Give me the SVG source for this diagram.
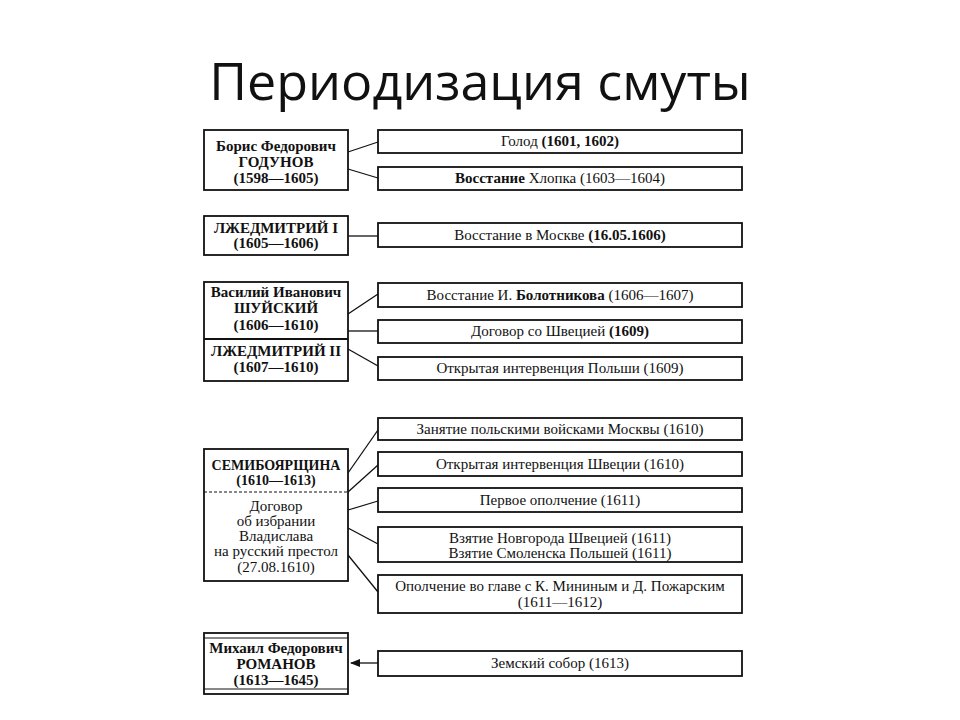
<svg xmlns="http://www.w3.org/2000/svg" width="960" height="720" viewBox="0 0 960 720">
<style>
.title{font-family:"Open Sans","Noto Sans","Liberation Sans",sans-serif;font-size:52px;fill:#111;text-anchor:middle}
.box{fill:#fff;stroke:#111;stroke-width:1.8}
.t{font-family:"Liberation Serif","Times New Roman",serif;font-size:15px;fill:#111;text-anchor:middle}
.s{font-size:14px}
.b{font-weight:bold}
.c{stroke:#111;stroke-width:1.3;fill:none}
</style>
<defs>
<marker id="arr" markerWidth="10" markerHeight="8" refX="9" refY="4" orient="auto" markerUnits="userSpaceOnUse">
<path d="M0,0 L10,4 L0,8 Z" fill="#111"/>
</marker>
</defs>
<rect width="960" height="720" fill="#fff"/>
<text class="title" x="480" y="100">Периодизация смуты</text>

<g id="connectors">
<line class="c" x1="348" y1="152" x2="378" y2="142"/>
<line class="c" x1="348" y1="169" x2="378" y2="178"/>
<line class="c" x1="348" y1="236" x2="378" y2="236"/>
<line class="c" x1="348" y1="314" x2="378" y2="294"/>
<line class="c" x1="348" y1="331" x2="378" y2="331"/>
<line class="c" x1="348" y1="349" x2="378" y2="366"/>
<line class="c" x1="348" y1="473" x2="378" y2="430"/>
<line class="c" x1="348" y1="492" x2="378" y2="465"/>
<line class="c" x1="348" y1="510" x2="378" y2="501"/>
<line class="c" x1="348" y1="528" x2="378" y2="544"/>
<line class="c" x1="348" y1="555" x2="378" y2="592"/>
<line class="c" x1="378" y1="663" x2="351" y2="663" marker-end="url(#arr)"/>
</g>

<g id="godunov">
<rect class="box" x="204" y="130" width="144" height="60"/>
<text class="t b" x="276" y="151">Борис Федорович</text>
<text class="t b" x="276" y="167">ГОДУНОВ</text>
<text class="t b" x="276" y="183">(1598—1605)</text>
</g>
<g id="lzhedmitry1">
<rect class="box" x="204" y="216" width="144" height="39"/>
<text class="t b" x="276" y="233">ЛЖЕДМИТРИЙ I</text>
<text class="t b" x="276" y="248">(1605—1606)</text>
</g>
<g id="shuisky">
<rect class="box" x="204" y="282" width="144" height="99"/>
<line x1="204" y1="339" x2="348" y2="339" stroke="#111" stroke-width="1.8"/>
<text class="t b" x="276" y="297">Василий Иванович</text>
<text class="t b" x="276" y="313">ШУЙСКИЙ</text>
<text class="t b" x="276" y="330">(1606—1610)</text>
<text class="t b" x="276" y="356">ЛЖЕДМИТРИЙ II</text>
<text class="t b" x="276" y="372">(1607—1610)</text>
</g>
<g id="semiboyarshchina">
<rect class="box" x="204" y="449" width="144" height="132"/>
<line x1="204" y1="492" x2="348" y2="492" stroke="#111" stroke-width="1" stroke-dasharray="3,2"/>
<text class="t s b" x="276" y="470">СЕМИБОЯРЩИНА</text>
<text class="t s b" x="276" y="485">(1610—1613)</text>
<text class="t" x="276" y="511">Договор</text>
<text class="t" x="276" y="526">об избрании</text>
<text class="t" x="276" y="541">Владислава</text>
<text class="t" x="276" y="556">на русский престол</text>
<text class="t" x="276" y="572">(27.08.1610)</text>
</g>
<g id="romanov">
<rect class="box" x="204" y="633" width="144" height="61"/>
<line x1="204" y1="638" x2="348" y2="638" stroke="#111" stroke-width="1"/>
<line x1="204" y1="689" x2="348" y2="689" stroke="#111" stroke-width="1"/>
<text class="t b" x="276" y="653">Михаил Федорович</text>
<text class="t b" x="276" y="669">РОМАНОВ</text>
<text class="t b" x="276" y="685">(1613—1645)</text>
</g>

<g id="golod">
<rect class="box" x="378" y="130" width="364" height="23"/>
<text class="t" x="560" y="146">Голод <tspan class="b">(1601, 1602)</tspan></text>
</g>
<g id="khlopok">
<rect class="box" x="378" y="167" width="364" height="23"/>
<text class="t" x="560" y="183"><tspan class="b">Восстание</tspan> Хлопка (1603—1604)</text>
</g>
<g id="moskva">
<rect class="box" x="378" y="223" width="364" height="24"/>
<text class="t" x="560" y="240">Восстание в Москве <tspan class="b">(16.05.1606)</tspan></text>
</g>
<g id="bolotnikov">
<rect class="box" x="378" y="283" width="364" height="24"/>
<text class="t" x="560" y="300">Восстание И. <tspan class="b">Болотникова</tspan> (1606—1607)</text>
</g>
<g id="dogovor">
<rect class="box" x="378" y="320" width="364" height="23"/>
<text class="t" x="560" y="336">Договор со Швецией <tspan class="b">(1609)</tspan></text>
</g>
<g id="polsha">
<rect class="box" x="378" y="357" width="364" height="23"/>
<text class="t" x="560" y="373">Открытая интервенция Польши (1609)</text>
</g>
<g id="zanyatie">
<rect class="box" x="378" y="418" width="364" height="22"/>
<text class="t" x="560" y="434">Занятие польскими войсками Москвы (1610)</text>
</g>
<g id="shvetsiya">
<rect class="box" x="378" y="452" width="364" height="24"/>
<text class="t" x="560" y="469">Открытая интервенция Швеции (1610)</text>
</g>
<g id="opolchenie1">
<rect class="box" x="378" y="488" width="364" height="24"/>
<text class="t" x="560" y="505">Первое ополчение (1611)</text>
</g>
<g id="vzyatie">
<rect class="box" x="378" y="527" width="364" height="35"/>
<text class="t" x="560" y="543">Взятие Новгорода Швецией (1611)</text>
<text class="t" x="560" y="558">Взятие Смоленска Польшей (1611)</text>
</g>
<g id="opolchenie2">
<rect class="box" x="378" y="575" width="364" height="38"/>
<text class="t" x="560" y="591">Ополчение во главе с К. Мининым и Д. Пожарским</text>
<text class="t" x="560" y="607">(1611—1612)</text>
</g>
<g id="zemsky">
<rect class="box" x="378" y="651" width="364" height="25"/>
<text class="t" x="560" y="668">Земский собор (1613)</text>
</g>
</svg>
